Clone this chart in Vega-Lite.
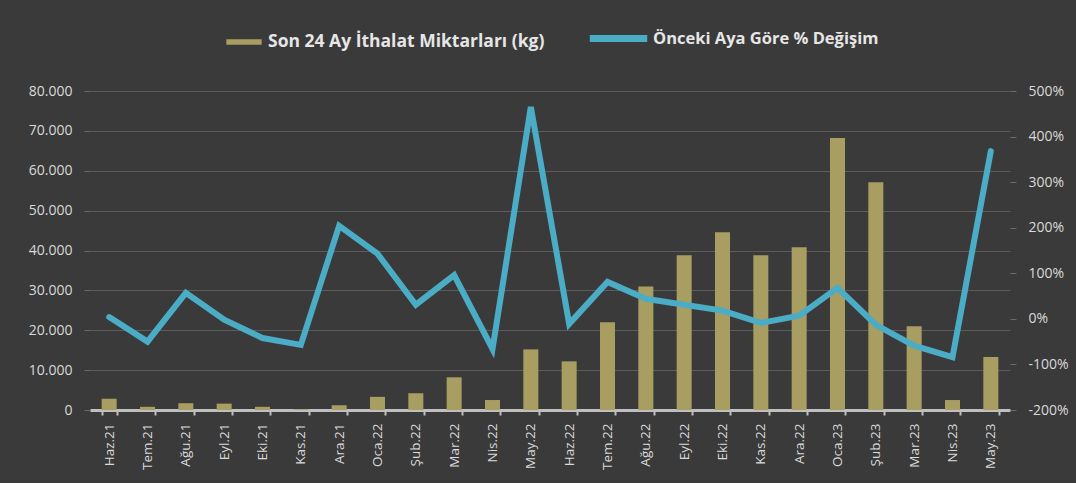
{
  "$schema": "https://vega.github.io/schema/vega-lite/v6.json",
  "autosize": {"type": "none"},
  "width": 920,
  "height": 319,
  "padding": {"left": 90, "top": 91, "right": 66, "bottom": 73},
  "background": "#3a3a3a",
  "config": {
    "view": {"stroke": null},
    "font": "Open Sans",
    "axis": {"labelColor": "#d9d9d9", "labelFont": "Open Sans", "labelFontSize": 14, "titleColor": "#d9d9d9"}
  },
  "data": {
    "values": [
      {"ay": "Haz.21", "kg": 2800, "pct": 4},
      {"ay": "Tem.21", "kg": 800, "pct": -50},
      {"ay": "Ağu.21", "kg": 1700, "pct": 57},
      {"ay": "Eyl.21", "kg": 1600, "pct": -2},
      {"ay": "Eki.21", "kg": 800, "pct": -42},
      {"ay": "Kas.21", "kg": 200, "pct": -57},
      {"ay": "Ara.21", "kg": 1200, "pct": 204},
      {"ay": "Oca.22", "kg": 3300, "pct": 143},
      {"ay": "Şub.22", "kg": 4200, "pct": 31},
      {"ay": "Mar.22", "kg": 8200, "pct": 96},
      {"ay": "Nis.22", "kg": 2500, "pct": -66},
      {"ay": "May.22", "kg": 15200, "pct": 465},
      {"ay": "Haz.22", "kg": 12200, "pct": -11},
      {"ay": "Tem.22", "kg": 22000, "pct": 81},
      {"ay": "Ağu.22", "kg": 31000, "pct": 44},
      {"ay": "Eyl.22", "kg": 38800, "pct": 31},
      {"ay": "Eki.22", "kg": 44600, "pct": 18},
      {"ay": "Kas.22", "kg": 38800, "pct": -9},
      {"ay": "Ara.22", "kg": 40800, "pct": 7},
      {"ay": "Oca.23", "kg": 68200, "pct": 68},
      {"ay": "Şub.23", "kg": 57100, "pct": -13},
      {"ay": "Mar.23", "kg": 21000, "pct": -59},
      {"ay": "Nis.23", "kg": 2500, "pct": -84},
      {"ay": "May.23", "kg": 13300, "pct": 368}
    ]
  },
  "encoding": {
    "x": {
      "field": "ay", "type": "nominal", "sort": null,
      "scale": {"paddingInner": 0.6, "paddingOuter": 0.3},
      "axis": {"title": null, "labelAngle": -90, "labelFontSize": 13.5, "labelPadding": 8,
               "domainColor": "#bfbfbf", "domainWidth": 3, "tickColor": "#bfbfbf", "tickSize": 5, "tickWidth": 2,
               "tickBand": "extent"}
    }
  },
  "layer": [
    {
      "mark": {"type": "bar", "width": 15,
        "fill": {"gradient": "linear", "x1": 0, "x2": 1, "y1": 0, "y2": 0,
          "stops": [{"offset": 0, "color": "#6b6232"}, {"offset": 0.45, "color": "#b8ad72"}, {"offset": 1, "color": "#6b6232"}]}},
      "encoding": {
        "y": {"field": "kg", "type": "quantitative",
          "scale": {"domain": [0, 80000], "nice": false},
          "axis": {"title": null, "values": [0,10000,20000,30000,40000,50000,60000,70000,80000],
                   "labelExpr": "replace(format(datum.value, ','), ',', '.')", "labelOverlap": false,
                   "labelPadding": 12, "domain": false, "tickColor": "#6a6a6a", "tickSize": 6,
                   "gridColor": "#5c5c5c", "gridWidth": 1.2}},
        "fill": {"datum": "Son 24 Ay İthalat Miktarları (kg)", "type": "nominal",
          "scale": {"range": ["#a89e62"]},
          "legend": {"title": null, "orient": "none", "legendX": 136, "legendY": -67,
            "symbolType": "M-1,-0.16H1V0.16H-1Z", "symbolSize": 1250, "symbolFillColor": "#a89e62", "symbolStrokeWidth": 0,
            "labelColor": "#e6e6e6", "labelFontSize": 17.5, "labelFontWeight": "bold", "labelFont": "Open Sans", "labelLimit": 400, "labelOffset": 6}}
      }
    },
    {
      "mark": {"type": "line", "strokeWidth": 6, "strokeJoin": "miter", "strokeCap": "round", "color": "#4bacc6"},
      "encoding": {
        "y": {"field": "pct", "type": "quantitative",
          "scale": {"domain": [-200, 500], "nice": false},
          "axis": {"title": null, "orient": "right", "values": [-200,-100,0,100,200,300,400,500],
                   "labelExpr": "datum.value + '%'", "labelOverlap": false,
                   "labelPadding": 12, "domain": false, "tickColor": "#6a6a6a", "tickSize": 6,
                   "gridColor": "#5c5c5c", "gridWidth": 1.2}},
        "stroke": {"datum": "Önceki Aya Göre % Değişim", "type": "nominal",
          "scale": {"range": ["#4bacc6"]},
          "legend": {"title": null, "orient": "none", "legendX": 496, "legendY": -85,
            "symbolType": "stroke", "symbolSize": 3300, "symbolStrokeWidth": 7,
            "labelColor": "#e6e6e6", "labelFontSize": 16.5, "labelFontWeight": "bold", "labelFont": "Open Sans", "labelLimit": 400, "labelOffset": 2}}
      }
    }
  ],
  "resolve": {"scale": {"y": "independent", "fill": "independent", "stroke": "independent"}}
}
